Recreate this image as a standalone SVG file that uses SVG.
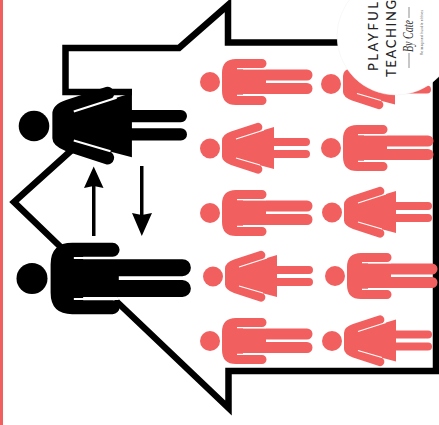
<svg xmlns="http://www.w3.org/2000/svg" width="439" height="425" viewBox="0 0 439 425">
<style>
.r{fill:#f25f5f}.k{fill:#000}
.o{fill:none;stroke:#000;stroke-width:6.5;stroke-linejoin:miter}
.w{fill:none;stroke:#fff;stroke-width:1.3}
.t{font-family:"Lato","Liberation Sans",sans-serif;font-size:13px;fill:#222;font-weight:500}
</style>
<defs>
<g id="man">
<circle cx="0" cy="0" r="10"/>
<path d="M26-23H52a4.500 4.500 0 0 1 0 9H33V-12.500H97a5.500 5.500 0 0 1 0 11H56V1H97a5.500 5.500 0 0 1 0 11H33V14H52a4.500 4.500 0 0 1 0 9H26Q12 23 12 9V-9Q12-23 26-23Z"/>
<path class="w" d="M27-13.300H56M27 13.300H56" />
</g>
<g id="woman">
<circle cx="0" cy="0" r="10"/>
<path d="M12-8Q12-14 21-17L47-25.500A4 4 0 0 1 49-17L64-21.500V-10.500H96a4 4 0 0 1 0 8H64V1.500H96a4 4 0 0 1 0 8H64V20.500L49 16.500A4 4 0 0 1 47 25L21 16.500Q12 13 12 8Z"/>
<path class="w" d="M26-9.500 54-18.500M26 9.500 50 16.500"/>
</g>
</defs>
<rect id="edge-bar" x="0" y="0" width="3" height="425" class="r"/>
<g id="connectors">
<path id="house-top" class="o" d="M338 42.500H228V5L179 48H65.500V92H132"/>
<path id="house-left" class="o" d="M74 148 14 202 70 256"/>
<path id="house-bottom" class="o" d="M115 300 228.500 408V371H436V70"/>
<g id="arrow-up"><path d="M92 236V186H95.500V236Z"/><path d="M93.700 166.500 103.500 188 93.700 186 84 188Z"/></g>
<g id="arrow-down"><path d="M140 166H143.500V216H140Z"/><path d="M141.800 236 132 213 141.800 215 152 213Z"/></g>
</g>
<g id="red-people" class="r">
<use id="p1" href="#man" x="210" y="82"/>
<use id="p2" href="#woman" x="331" y="84"/>
<use id="p3" href="#woman" x="210" y="148.500"/>
<use id="p4" href="#man" x="331" y="148"/>
<use id="p5" href="#man" x="210" y="213"/>
<use id="p6" href="#woman" x="332" y="212.500"/>
<use id="p7" href="#woman" x="213" y="276.500"/>
<use id="p8" href="#man" x="335" y="276"/>
<use id="p9" href="#man" x="210" y="341"/>
<use id="p10" href="#woman" x="332" y="341"/>
</g>
<g id="adult-woman" class="k"><use href="#woman" transform="translate(34 126) scale(1.53)"/></g>
<g id="adult-man" class="k"><use href="#man" transform="translate(32 278.500) scale(1.55)"/></g>
<g id="logo">
<circle cx="396" cy="36" r="59" fill="#fff" stroke="#f0f0f0" stroke-width="0.500"/>
<g transform="rotate(-90)">
<text class="t" x="-71" y="378" textLength="69" lengthAdjust="spacing">PLAYFUL</text>
<text class="t" x="-77" y="396" textLength="77" lengthAdjust="spacing">TEACHING</text>
<path d="M-68 409H-53M-18 409H-7" stroke="#444" stroke-width="0.600" fill="none"/>
<text x="-52" y="413" font-family="'Liberation Serif',serif" font-style="italic" font-size="14" fill="#333" textLength="32" lengthAdjust="spacingAndGlyphs">By Cate</text>
<text x="-55" y="423" font-family="'Liberation Sans',sans-serif" font-size="3" fill="#555" textLength="45">Reimagined bundle ebbies</text>
</g>
</g>
</svg>
